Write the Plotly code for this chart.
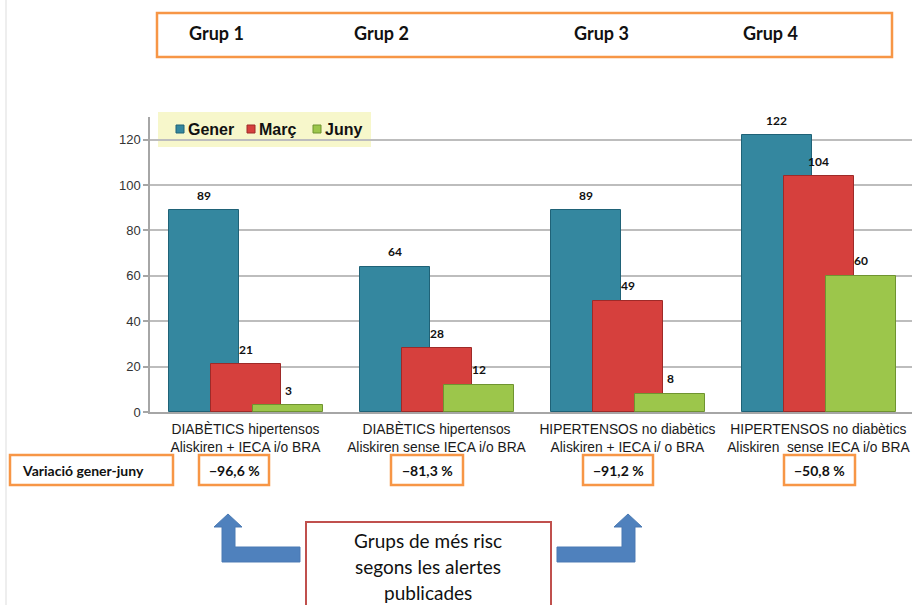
import plotly.graph_objects as go

# ---- data ----
group_names = ["Grup 1", "Grup 2", "Grup 3", "Grup 4"]
cat_line1 = ["DIABÈTICS hipertensos", "DIABÈTICS hipertensos",
             "HIPERTENSOS no diabètics", "HIPERTENSOS no diabètics"]
cat_line2 = ["Aliskiren + IECA i/o BRA", "Aliskiren sense IECA i/o BRA",
             "Aliskiren + IECA i/ o BRA", "Aliskiren\u00a0 sense IECA i/o BRA"]
gener = [89, 64, 89, 122]
marc = [21, 28, 49, 104]
juny = [3, 12, 8, 60]
variacio = [-96.6, -81.3, -91.2, -50.8]
y_ticks = [0, 20, 40, 60, 80, 100, 120]
note_lines = ["Grups de més risc", "segons les alertes", "publicades"]

# ---- geometry helpers (page pixels -> paper coords) ----
W, H = 912, 605
ML, MR, MT, MB = 150, 0, 117, 193
PW, PH = W - ML - MR, H - MT - MB


def px(x):
    return (x - ML) / PW


def py(y):
    return (H - MB - y) / PH


FONT = "Liberation Sans, Arial, sans-serif"
CAL = "Lato, Open Sans, sans-serif"
ORANGE = "#f79646"
INK = "#111111"

x = list(range(len(gener)))
bar_w = 0.366
series = [
    ("Gener", gener, "#34879f", "#1f6277", -0.40),
    ("Març", marc, "#d6403d", "#9e2a28", -0.18),
    ("Juny", juny, "#9cc64b", "#6f9430", 0.04),
]

fig = go.Figure()
for name, vals, col, edge, off in series:
    fig.add_trace(go.Bar(
        x=x, y=vals, name=name, width=bar_w, offset=off,
        marker=dict(color=col, line=dict(color=edge, width=1)),
        hoverinfo="x+y", showlegend=False,
    ))

annotations = []
shapes = []


def label(cx, cy, text, size, family=CAL, anchor="center"):
    annotations.append(dict(x=px(cx), y=py(cy), xref="paper", yref="paper",
                            xanchor=anchor, yanchor="middle", text=text,
                            showarrow=False,
                            font=dict(family=family, size=size, color=INK)))


def box(x0, x1, y0, y1, color=ORANGE, width=2.5, fill=None):
    d = dict(type="rect", xref="paper", yref="paper",
             x0=px(x0), x1=px(x1), y0=py(y0), y1=py(y1),
             line=dict(color=color, width=width))
    if fill:
        d["fillcolor"] = fill
        d["layer"] = "below"
    shapes.append(d)


# value labels above each bar
for name, vals, col, edge, off in series:
    for i, v in enumerate(vals):
        annotations.append(dict(
            x=i + off + bar_w / 2, y=v, xref="x", yref="y",
            xanchor="center", yanchor="middle",
            text=f"<b>{v}</b>", showarrow=False, yshift=15,
            font=dict(family=CAL, size=12, color=INK),
        ))

# legend block
box(158, 371, 112, 147, color="#f7f7cb", width=0, fill="#f7f7cb")
for (name, vals, col, edge, off), sx in zip(series, [176, 247, 313]):
    shapes.append(dict(type="rect", xref="paper", yref="paper",
                       x0=px(sx), x1=px(sx + 8), y0=py(125), y1=py(133),
                       fillcolor=col, line=dict(color=edge, width=1)))
    label(sx + 10, 129, f"<b>{name}</b>", 16, family=FONT, anchor="left")

# top frame with group names
box(157, 892, 13, 57)
for g, cx in zip(group_names, [216, 381, 601, 770]):
    label(cx, 33, f"<b>{g}</b>", 18)

# variation row
box(10, 173, 455, 485)
label(20, 470, "<b>Variació gener-juny</b>", 14, anchor="left")
for v, (x0, x1) in zip(variacio, [(199, 269), (391, 463), (583, 653), (784, 855)]):
    box(x0, x1, 455, 485)
    txt = ("\u2212" if v < 0 else "") + f"{abs(v):.1f}".replace(".", ",") + " %"
    label((x0 + x1) / 2, 470, f"<b>{txt}</b>", 14)

# note box at the bottom
box(306, 551, 522, 615, color="#c0504d", width=2)
for line, cy in zip(note_lines, [540, 566, 592]):
    label(428, cy, line, 19)


def poly(points):
    d = "M " + " L ".join(f"{px(a):.5f},{py(b):.5f}" for a, b in points) + " Z"
    return dict(type="path", xref="paper", yref="paper", path=d,
                fillcolor="#4f81bd", line=dict(color="#4a7ab4", width=1))


# bent arrows pointing up to the higher-risk groups
shapes.append(poly([(228, 514), (242, 527), (235, 527), (235, 547), (300, 547),
                    (300, 562), (222, 562), (222, 527), (214, 527)]))
shapes.append(poly([(628, 514), (642, 527), (635, 527), (635, 562), (557, 562),
                    (557, 547), (622, 547), (622, 527), (614, 527)]))

# faint page edge on the left
shapes.append(dict(type="line", xref="paper", yref="paper",
                   x0=px(6), x1=px(6), y0=py(0), y1=py(605),
                   line=dict(color="#dddddd", width=1)))

fig.update_layout(
    width=W, height=H,
    margin=dict(l=ML, r=MR, t=MT, b=MB),
    paper_bgcolor="white", plot_bgcolor="white",
    barmode="overlay", bargap=0,
    showlegend=False,
    annotations=annotations,
    shapes=shapes,
)
fig.update_xaxes(
    range=[-0.5, 3.49], tickvals=x,
    ticktext=[f"{a}<br>{b}" for a, b in zip(cat_line1, cat_line2)],
    tickfont=dict(family=FONT, size=13.8, color="#1a1a1a"),
    ticklabelstandoff=4,
    showline=True, linecolor="#a6a6a6", linewidth=1.5,
    ticks="", showgrid=False, zeroline=False, fixedrange=True,
)
fig.update_yaxes(
    range=[0, 130], tickvals=y_ticks,
    tickfont=dict(family=FONT, size=13, color="#333333"),
    showline=True, linecolor="#a6a6a6", linewidth=1.5,
    ticks="outside", ticklen=5, tickcolor="#a6a6a6", tickwidth=1.5,
    showgrid=True, gridcolor="#bdbdbd", gridwidth=1.5, zeroline=False,
    fixedrange=True,
)

fig.write_html("out.html")
